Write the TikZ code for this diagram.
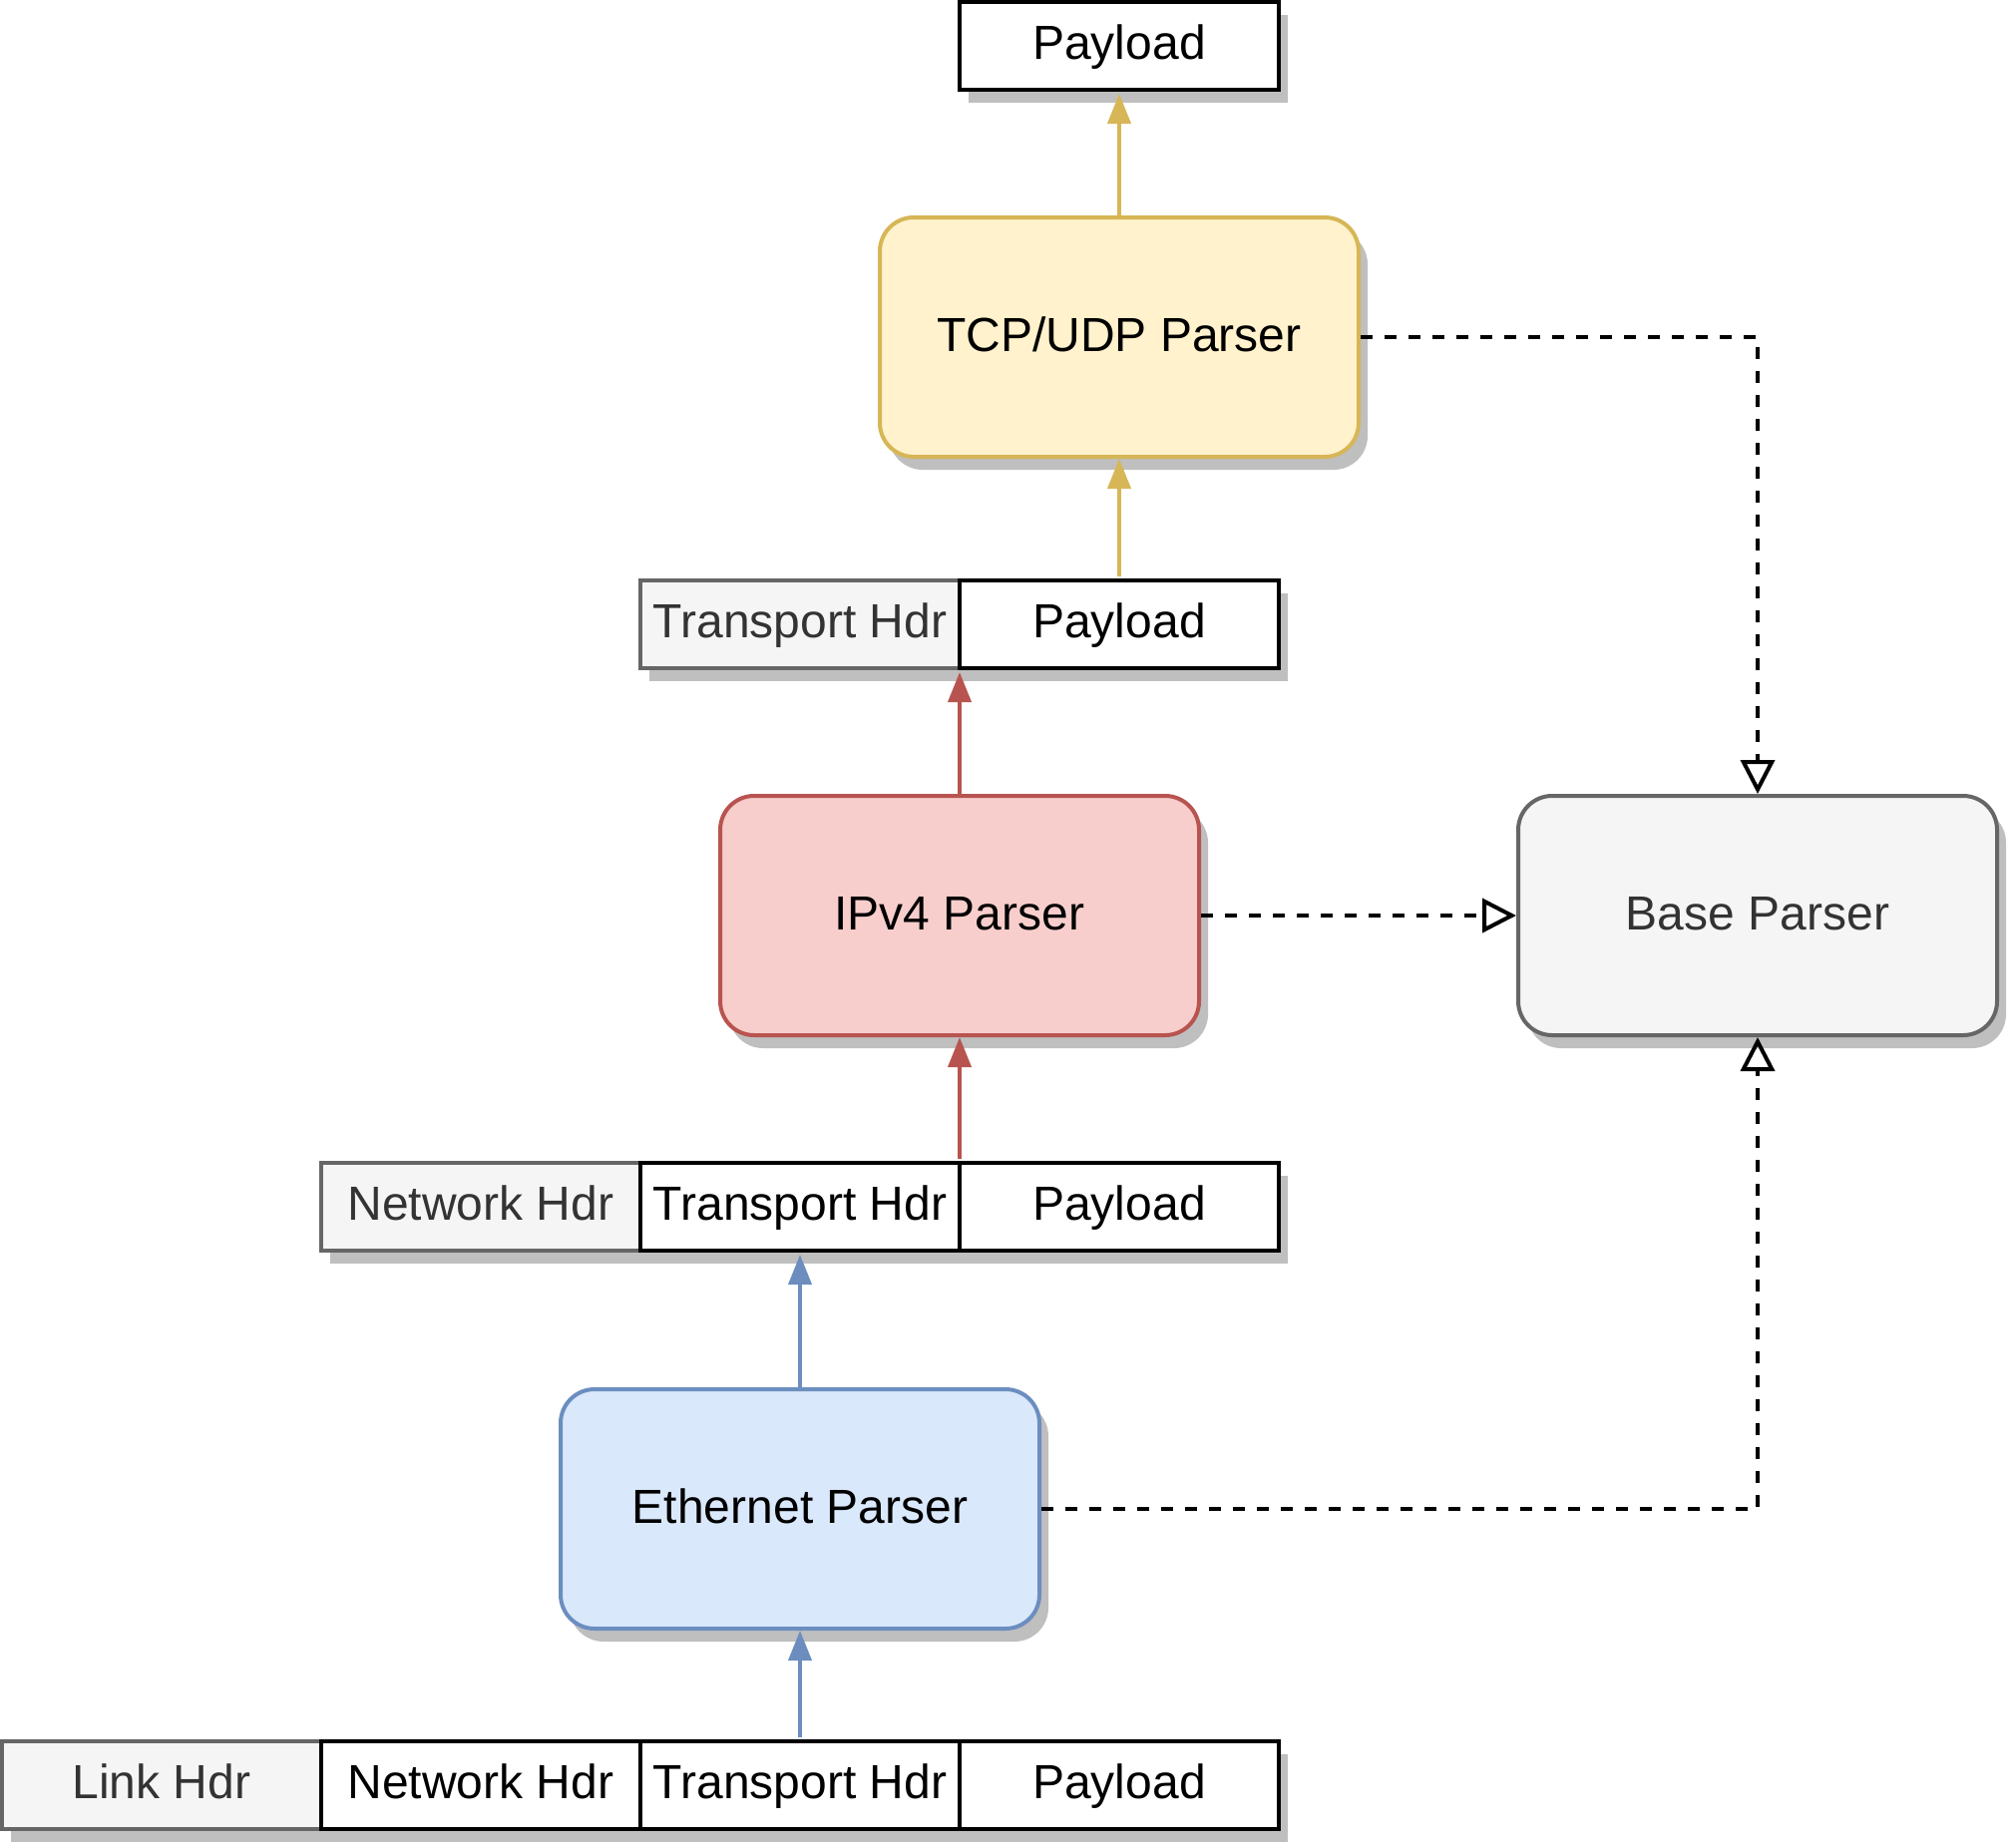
\documentclass[tikz,border=0pt]{standalone}
\usepackage{fontspec}
\setmainfont{Liberation Sans}
\usetikzlibrary{matrix,positioning,arrows.meta,shadows}
\definecolor{yfill}{HTML}{FFF2CC}
\definecolor{yline}{HTML}{D6B656}
\definecolor{rfill}{HTML}{F8CECC}
\definecolor{rline}{HTML}{B85450}
\definecolor{bfill}{HTML}{DAE8FC}
\definecolor{bline}{HTML}{6C8EBF}
\definecolor{gfill}{HTML}{F5F5F5}
\definecolor{gline}{HTML}{666666}
\definecolor{gtext}{HTML}{333333}
\definecolor{shade}{HTML}{BFBFBF}
\tikzset{
myshadow/.style={
  drop shadow={shadow xshift=4.5pt,shadow yshift=-6.5pt,fill=shade,opacity=1}
  },
mymat/.style={
  matrix of nodes,
  line width=2pt,
  inner sep=0pt,
  column sep=-\pgflinewidth,
  nodes={draw,fill=white,line width=2pt,inner sep=0pt,
    text height=17pt,text depth=4pt,
    minimum width=160pt,minimum height=44pt,
    font=\fontsize{24pt}{28pt}\selectfont,myshadow}
  },
graycell/.style={draw=gline,fill=gfill,text=gtext},
myparser/.style={
  rounded corners=17pt,
  line width=2pt,
  text height=17pt,
  text depth=3pt,
  minimum width=240pt,
  minimum height=120pt,
  font=\fontsize{24pt}{28pt}\selectfont,
  myshadow
  },
myparsers/.style 2 args={
  myparser,
  draw=#1,
  fill=#2
  }
}

\begin{document}
\begin{tikzpicture}[x=0.5pt,y=-0.5pt,>={Triangle[length=15pt,width=11.5pt]}]
\useasboundingbox (0,0) rectangle (2016,1852);

\matrix[mymat,anchor=east]
at (1286,46)
(top)
{
Payload \\
};

\matrix[mymat,anchor=east]
at (1286,626)
(row2)
{
|[graycell]| Transport Hdr & Payload \\
};

\matrix[mymat,anchor=east]
at (1286,1210)
(row3)
{
|[graycell]| Network Hdr & Transport Hdr & Payload \\
};

\matrix[mymat,anchor=east]
at (1286,1790)
(row4)
{
|[graycell]| Link Hdr & Network Hdr & Transport Hdr & Payload \\
};

\node[myparsers={yline}{yfill}] (tcp) at (1122,338) {TCP/UDP Parser};
\node[myparsers={rline}{rfill}] (ipv4) at (962,918) {IPv4 Parser};
\node[myparsers={gline}{gfill},text=gtext] (base) at (1762,918) {Base Parser};
\node[myparsers={bline}{bfill}] (eth) at (802,1513) {Ethernet Parser};

\draw[->,yline,line width=2pt] (tcp.north) to (tcp.north |- top.south);
\draw[->,yline,line width=2pt] (tcp.south |- row2.north) to (tcp.south);
\draw[->,rline,line width=2pt] (ipv4.north) to (ipv4.north |- row2.south);
\draw[->,rline,line width=2pt] (ipv4.south |- row3.north) to (ipv4.south);
\draw[->,bline,line width=2pt] (eth.north) to (eth.north |- row3.south);
\draw[->,bline,line width=2pt] (eth.south |- row4.north) to (eth.south);

\begin{scope}[dash pattern=on 6pt off 6pt,line width=2pt,-{Triangle[open,length=17pt,width=17pt]}]

\draw (tcp.east) -| (base.north);
\draw (ipv4.east) -- (base.west);
\draw (eth.east) -| (base.south);

\end{scope}
\end{tikzpicture}
\end{document}
